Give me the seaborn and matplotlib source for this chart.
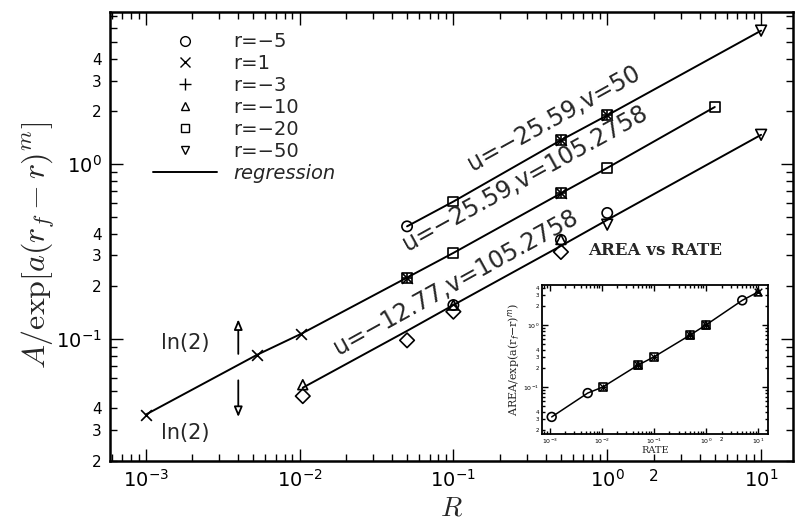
import numpy as np
import matplotlib
matplotlib.use("Agg")
import matplotlib.pyplot as plt
import matplotlib.ticker as mticker
from matplotlib.lines import Line2D
import seaborn as sns

# regression lines, values
line_a_R = [0.05, 0.1, 0.5, 1.0, 10.0]
line_a_A = [0.44, 0.61, 1.37, 1.9, 5.8]
line_b_R = [0.001, 0.0053, 0.0103, 0.05, 0.1, 0.5, 1.0, 5.0]
line_b_A = [0.0368, 0.081, 0.107, 0.224, 0.31, 0.68, 0.95, 2.12]
line_c_R = [0.0105, 0.05, 0.1, 0.5, 1.0, 10.0]
line_c_A = [0.0525, 0.111, 0.156, 0.34, 0.479, 1.47]

# measured points for each r
circ_R = [0.05, 0.1, 0.5, 1.0]
circ_A = [0.44, 0.156, 0.368, 0.525]
cross_R = [0.001, 0.0053, 0.0103, 0.05, 0.5, 1.0, 0.5]
cross_A = [0.0368, 0.081, 0.107, 0.224, 1.37, 1.9, 0.68]
plus_R = [0.05, 0.5, 0.5, 1.0]
plus_A = [0.224, 0.68, 1.37, 1.9]
tri_R = [0.0105, 0.1, 0.5]
tri_A = [0.0546, 0.156, 0.37]
sq_R = [0.05, 0.1, 0.1, 0.5, 0.5, 1.0, 1.0, 5.0]
sq_A = [0.224, 0.31, 0.61, 0.68, 1.37, 0.95, 1.9, 2.12]
tdown_R = [1.0, 10.0, 10.0]
tdown_A = [0.45, 1.47, 5.8]
diam_R = [0.0105, 0.05, 0.1, 0.5]
diam_A = [0.047, 0.098, 0.143, 0.314]

legend_labels = ["r=\u22125", "r=1", "r=\u22123", "r=\u221210", "r=\u221220", "r=\u221250", "regression"]

# inset "AREA vs RATE"
in_R = [0.0011, 0.0054, 0.0105, 0.05, 0.1, 0.5, 1.0, 5.0, 10.0]
in_A = [0.033, 0.08, 0.1, 0.226, 0.305, 0.69, 1.0, 2.5, 3.4]
in_circ_R = [0.0011, 0.0054, 5.0]
in_circ_A = [0.033, 0.08, 2.5]
in_sq_R = [0.0105, 0.05, 0.1, 0.5, 1.0]
in_sq_A = [0.1, 0.226, 0.305, 0.69, 1.0]
in_x_R = [0.0105, 0.05, 0.1, 0.5, 1.0, 10.0]
in_x_A = [0.1, 0.226, 0.305, 0.69, 1.0, 3.4]
in_tri_R = [0.05, 0.5, 1.0, 10.0]
in_tri_A = [0.226, 0.69, 1.0, 3.4]

# annotations
labels_uv = ["u=\u221225.59,v=50", "u=\u221225.59,v=105.2758", "u=\u221212.77,v=105.2758"]
labels_uv_pos = [(0.447, 1.83), (0.294, 0.83), (0.103, 0.21)]
ln2_pos = [(0.00182, 0.095), (0.00182, 0.029)]
arrow_R = 0.0040
arrow_up = (0.079, 0.134)
arrow_down = (0.06, 0.0344)

x_minor_labeled = [2.0]
y_minor_labeled = [0.02, 0.03, 0.04, 0.2, 0.3, 0.4, 2.0, 3.0, 4.0]

sns.set_style("ticks")
plt.rcParams["font.family"] = ["DejaVu Sans"]


def major_fmt(v, pos):
    e = int(np.round(np.log10(v)))
    return r"$\mathregular{10^{%d}}$" % e


def minor_fmt_factory(shown):
    def f(v, pos):
        for s in shown:
            if np.isclose(v, s, rtol=1e-3):
                e = int(np.floor(np.log10(v) + 1e-9))
                return "%d" % int(round(v / 10 ** e))
        return ""
    return f


def style_log_axes(ax, lw, maj_len, min_len, maj_size, min_size, pad):
    ax.set_xscale("log")
    ax.set_yscale("log")
    for s in ax.spines.values():
        s.set_linewidth(lw)
        s.set_color("k")
    ax.xaxis.set_major_locator(mticker.LogLocator(base=10, numticks=20))
    ax.yaxis.set_major_locator(mticker.LogLocator(base=10, numticks=20))
    ax.xaxis.set_minor_locator(mticker.LogLocator(base=10, subs=np.arange(2, 10), numticks=20))
    ax.yaxis.set_minor_locator(mticker.LogLocator(base=10, subs=np.arange(2, 10), numticks=20))
    ax.xaxis.set_major_formatter(mticker.FuncFormatter(major_fmt))
    ax.yaxis.set_major_formatter(mticker.FuncFormatter(major_fmt))
    ax.xaxis.set_minor_formatter(mticker.FuncFormatter(minor_fmt_factory(x_minor_labeled)))
    ax.yaxis.set_minor_formatter(mticker.FuncFormatter(minor_fmt_factory(y_minor_labeled)))
    ax.tick_params(which="both", direction="in", top=True, right=True, colors="k", pad=pad)
    ax.tick_params(which="major", length=maj_len, width=1, labelsize=maj_size)
    ax.tick_params(which="minor", length=min_len, width=1, labelsize=min_size)


fig = plt.figure(figsize=(7.99, 5.28), dpi=100)
ax = fig.add_axes([0.138, 0.127, 0.855, 0.85])
style_log_axes(ax, 1.8, 9, 5, 14, 11, 6)
ax.set_xlim(10 ** -3.23, 10 ** 1.21)
ax.set_ylim(0.02, 7.4)

for R, A in [(line_a_R, line_a_A), (line_b_R, line_b_A), (line_c_R, line_c_A)]:
    sns.lineplot(x=R, y=A, color="k", lw=1.4, sort=False, estimator=None, ax=ax)

open_kw = dict(facecolor="none", edgecolor="k", linewidth=1.2, zorder=3)
sns.scatterplot(x=circ_R, y=circ_A, marker="o", s=55, ax=ax, **open_kw)
sns.scatterplot(x=sq_R, y=sq_A, marker="s", s=50, ax=ax, **open_kw)
sns.scatterplot(x=tri_R, y=tri_A, marker="^", s=50, ax=ax, **open_kw)
sns.scatterplot(x=tdown_R, y=tdown_A, marker="v", s=60, ax=ax, **open_kw)
sns.scatterplot(x=diam_R, y=diam_A, marker="D", s=55, ax=ax, **open_kw)
sns.scatterplot(x=cross_R, y=cross_A, marker="x", s=60, color="k", linewidth=1.2, zorder=3, ax=ax)
sns.scatterplot(x=plus_R, y=plus_A, marker="+", s=60, color="k", linewidth=1.2, zorder=3, ax=ax)

handles = [
    Line2D([], [], ls="", marker="o", mfc="none", mec="k", ms=7),
    Line2D([], [], ls="", marker="x", color="k", ms=7),
    Line2D([], [], ls="", marker="+", color="k", ms=8),
    Line2D([], [], ls="", marker="^", mfc="none", mec="k", ms=6),
    Line2D([], [], ls="", marker="s", mfc="none", mec="k", ms=6),
    Line2D([], [], ls="", marker="v", mfc="none", mec="k", ms=6),
    Line2D([], [], color="k", lw=1.4),
]
leg = ax.legend(handles, legend_labels, loc="upper left", bbox_to_anchor=(0.063, 0.955),
                frameon=False, fontsize=14, handlelength=3.3, handletextpad=0.8,
                labelspacing=0.15, borderpad=0, borderaxespad=0)
leg.get_texts()[-1].set_fontstyle("italic")

for txt, (xr, ya) in zip(labels_uv, labels_uv_pos):
    ax.text(xr, ya, txt, fontsize=17, rotation=29, ha="center", va="center",
            rotation_mode="anchor")

for xr, ya in ln2_pos:
    ax.text(xr, ya, "ln(2)", fontsize=15, ha="center", va="center")

arrow_kw = dict(arrowstyle="-|>,head_length=0.6,head_width=0.25", fc="white", ec="k", lw=1.3)
ax.annotate("", xy=(arrow_R, arrow_up[1]), xytext=(arrow_R, arrow_up[0]), arrowprops=arrow_kw)
ax.annotate("", xy=(arrow_R, arrow_down[1]), xytext=(arrow_R, arrow_down[0]), arrowprops=arrow_kw)

ax.set_xlabel("$R$", fontsize=20, math_fontfamily="cm", labelpad=2)
ax.set_ylabel(r"$A/\exp[a(r_f-r)^m]$", fontsize=23, math_fontfamily="cm")
ax.yaxis.set_label_coords(-0.078, 0.48)

# inset
axi = fig.add_axes([0.678, 0.178, 0.283, 0.282])
style_log_axes(axi, 1.3, 4, 2, 4.5, 4, 2)
axi.set_xlim(10 ** -3.15, 10 ** 1.19)
axi.set_ylim(0.0175, 4.4)
sns.lineplot(x=in_R, y=in_A, color="k", lw=1.1, sort=False, estimator=None, ax=axi)
sns.scatterplot(x=in_circ_R, y=in_circ_A, marker="o", s=40, ax=axi, **open_kw)
sns.scatterplot(x=in_sq_R, y=in_sq_A, marker="s", s=30, ax=axi, **open_kw)
sns.scatterplot(x=in_tri_R, y=in_tri_A, marker="^", s=30, ax=axi, **open_kw)
sns.scatterplot(x=in_x_R, y=in_x_A, marker="x", s=30, color="k", linewidth=1.0, zorder=3, ax=axi)
sns.scatterplot(x=in_sq_R, y=in_sq_A, marker="+", s=25, color="k", linewidth=1.0, zorder=3, ax=axi)
axi.set_title("AREA vs RATE", fontsize=12, fontweight="bold", family="DejaVu Serif", pad=22)
axi.set_xlabel("RATE", fontsize=7, family="DejaVu Serif", labelpad=0)
axi.set_ylabel(r"AREA/exp(a(r$_f$$-$r)$^m$)", fontsize=8, family="DejaVu Serif", labelpad=1)

fig.savefig("out.png", dpi=100)
